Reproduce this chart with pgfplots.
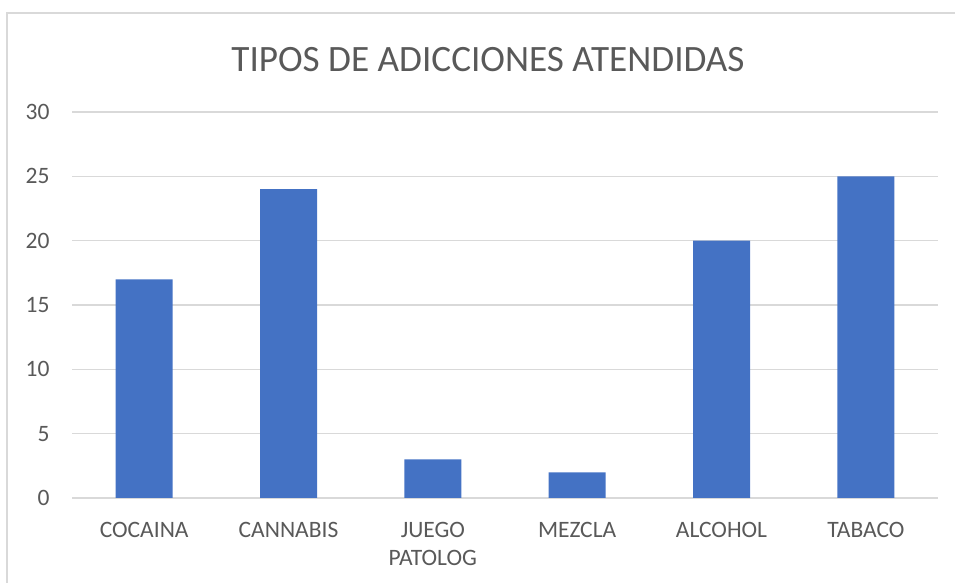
\documentclass[border=0pt]{standalone}
\usepackage{fontspec}
\setmainfont{Carlito}
\usepackage{pgfplots}
\pgfplotsset{compat=1.18}
\definecolor{barblue}{HTML}{4472C4}
\definecolor{txtgray}{HTML}{595959}
\definecolor{gridgray}{HTML}{D9D9D9}
\begin{document}
\begin{tikzpicture}[x=1pt,y=1pt]
\useasboundingbox (0,0) rectangle (955,583);
\begin{scope}
\clip (0,0) rectangle (955,583);
\draw[gridgray, line width=1.5pt] (7,-20) -- (7,570) -- (980,570);
\end{scope}
\begin{axis}[
  at={(72pt,85pt)}, anchor=south west,
  scale only axis, width=866pt, height=386pt,
  xmin=-0.5, xmax=5.5, ymin=0, ymax=30,
  ytick={0,5,...,30},
  xtick={0,1,2,3,4,5},
  xticklabels={COCAINA,CANNABIS,{JUEGO\\PATOLOG},MEZCLA,ALCOHOL,TABACO},
  axis line style={draw=none},
  major tick length=0pt,
  ymajorgrids, grid style={gridgray, line width=1.3pt},
  /pgf/number format/assume math mode=true,
  tick label style={text=txtgray, font=\fontsize{23.5}{28}\selectfont},
  xticklabel style={align=center, yshift=-21pt},
  yticklabel style={xshift=-19pt},
  clip=false,
]
\addplot[ybar, bar width=57pt, fill=barblue, draw=none] coordinates {
(0,17) (1,24) (2,3) (3,2) (4,20) (5,25)
};
\end{axis}
\node[anchor=base, text=txtgray, font=\fontsize{37.2}{40}\selectfont] at (488,511) {TIPOS DE ADICCIONES ATENDIDAS};
\end{tikzpicture}
\end{document}
